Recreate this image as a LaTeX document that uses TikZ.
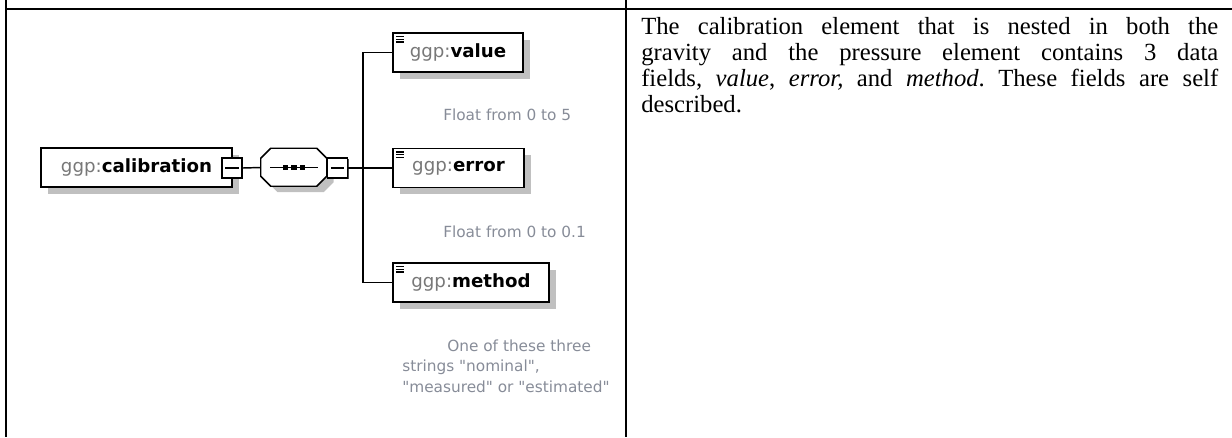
\documentclass[tikz,border=0pt]{standalone}
\usepackage{fontspec}
\setmainfont{Liberation Serif}
\newfontfamily\diagfont{DejaVu Sans}
\usetikzlibrary{positioning,shadows,calc}
\definecolor{shadowgray}{RGB}{192,192,192}
\definecolor{prefixgray}{RGB}{120,120,120}
\definecolor{notegray}{RGB}{135,140,152}
\tikzset{
  tablerule/.style={line width=1.5pt},
  link/.style={line width=1.1pt},
  iconline/.style={line width=0.9pt},
  elembox/.style={draw, line width=1.1pt, fill=white, inner sep=0pt, minimum height=29pt, align=center,
    font=\diagfont\fontsize{13.65pt}{16pt}\selectfont,
    drop shadow={shadow xshift=5.25pt, shadow yshift=-5pt, fill=shadowgray, opacity=1}},
  togglebox/.style={draw, line width=1.1pt, fill=white, minimum size=15pt, inner sep=0pt,
    drop shadow={shadow xshift=1.1pt, shadow yshift=-1.1pt, fill=black!70, opacity=1},
    path picture={\draw[line width=0.8pt] ([xshift=2.6pt]path picture bounding box.west) -- ([xshift=-2.6pt]path picture bounding box.east);}},
  seqframe/.style={inner sep=0pt, minimum width=49.5pt, minimum height=28.5pt},
  seqline/.style={draw, line width=1.1pt, fill=white},
  seqshadow/.style={fill=shadowgray},
  notetext/.style={inner sep=0pt, align=left, text=notegray, font=\diagfont\fontsize{11.5pt}{15.4pt}\selectfont},
  desctext/.style={inner sep=0pt, text width=432.75pt, align=justify}
}
\newcommand{\elemlabel}[1]{{\color{prefixgray}ggp:}\textbf{#1}}

\begin{document}
\begin{tikzpicture}[x=0.75pt, y=-0.75pt]
  \useasboundingbox (0,0) rectangle (1232,437);
  % table rules
  \draw[tablerule] (6,0) -- (6,437);
  \draw[tablerule] (626,0) -- (626,437);
  \draw[tablerule] (5,8.5) -- (1232,8.5);

  % schema diagram
  \node[elembox, minimum width=143.25pt] (calib) at (136.5,167.5) {\elemlabel{calibration}};
  \node[togglebox] (calibmin) at (232,168) {};
  \node[seqframe] (seq) at (294,167.5) {};
  \fill[seqshadow] ($(seq.north west)+(17,6)$) -- ++(46,0) -- ++(10,10) -- ++(0,18)
    -- ++(-10,10) -- ++(-46,0) -- ++(-10,-10) -- ++(0,-18) -- cycle;
  \path[seqline] ($(seq.north west)+(10,0)$) -- ++(46,0) -- ++(10,10) -- ++(0,18)
    -- ++(-10,10) -- ++(-46,0) -- ++(-10,-10) -- ++(0,-18) -- cycle;
  \node[togglebox] (seqmin) at (337.5,168) {};
  \coordinate (fork) at (363,168);

  \node[elembox, minimum width=97.5pt] (value) at (458,52.5) {\elemlabel{value}};
  \node[elembox, minimum width=98.25pt] (error) at (458.5,168) {\elemlabel{error}};
  \node[elembox, minimum width=117pt] (method) at (471,282.5) {\elemlabel{method}};

  \node[notetext, anchor=west] (notevalue) at (443,115) {Float from 0 to 5};
  \node[notetext, anchor=west] (noteerror) at (443,231.5) {Float from 0 to 0.1};
  \node[notetext, anchor=west] (notemethod) at (402,366)
    {\hspace*{33.75pt}One of these three\\strings "nominal",\\"measured" or "estimated"};

  % sequence symbol
  \draw[line width=0.9pt] ($(seq.center)+(-24,0)$) -- ($(seq.center)+(24,0)$);
  \foreach \d in {-8.5,0,8.5}
    \fill ($(seq.center)+(\d-2.6,-2.6)$) rectangle ($(seq.center)+(\d+2.6,2.6)$);

  % simple content icons
  \foreach \el in {value,error,method}
    \foreach \k in {0,1,2}
      \draw[iconline] ($(\el.north west)+(3.5,4+2.8*\k)$) -- ++(8,0);

  % connectors
  \draw[link] (calibmin.east) -- (seq.west);
  \draw[link] (seqmin.east) -- (fork);
  \draw[link] (fork) |- (value.west);
  \draw[link] (fork) -- (error.west);
  \draw[link] (fork) |- (method.west);

  % description
  \node[desctext, anchor=north west] (desc) at (641,17.2)
    {\fontsize{18.5pt}{19.5pt}\selectfont\frenchspacing
     The calibration element that is nested in both the\linebreak
     gravity and the pressure element contains 3 data\linebreak
     fields, \textit{value}, \textit{error,} and \textit{method}. These fields are self\linebreak
     described.\par};
\end{tikzpicture}
\end{document}
